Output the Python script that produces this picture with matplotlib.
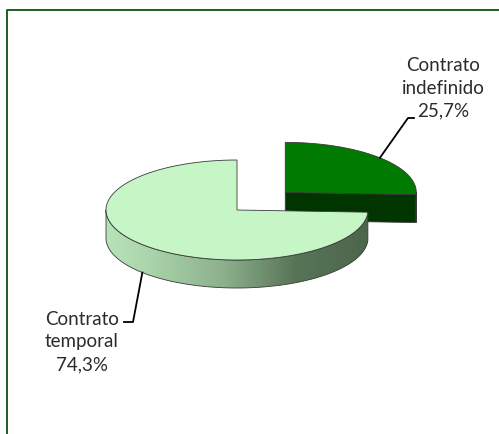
import numpy as np
import matplotlib
matplotlib.use('Agg')
import matplotlib.pyplot as plt
from matplotlib.patches import Polygon
from matplotlib.colors import LinearSegmentedColormap

# dados do grafico
categorias = ['Contrato\nindefinido', 'Contrato\ntemporal']
valores = [25.7, 74.3]
cor_topo = ['#007A00', '#C6F5C6']
cor_lado = ['#003500', None]
explosao = [0.51, 0.0]

# geometria (pixels)
cx, cy = 237, 210
rx, ry = 131, 50
prof = 28

# posicoes dos rotulos
pos_rotulo = [(443, 88), (82, 342)]
cotovelo = [[(408, 118), (414, 118)], [(133, 322), (124, 322)]]

fig = plt.figure(figsize=(4.99, 4.34), dpi=100)
ax = fig.add_axes([0, 0, 1, 1])
ax.set_xlim(0, 499)
ax.set_ylim(434, 0)
ax.axis('off')

# moldura
ax.plot([7.5, 7.5, 499], [434, 9.5, 9.5], color='#1B5E20', lw=1.4, solid_capstyle='butt')


def ponto(c, ang, desce=0):
    a = np.radians(ang)
    return np.array([c[0] + rx * np.cos(a), c[1] - ry * np.sin(a) + desce])


def arco(c, a1, a2, desce=0, n=300):
    angs = np.linspace(a1, a2, n)
    return np.array([ponto(c, a, desce) for a in angs])


# angulos: comeca em 12h, sentido horario
total = sum(valores)
inicio = 90.0
fatias = []
for i, v in enumerate(valores):
    a1 = inicio
    a2 = inicio - v / total * 360
    meio = (a1 + a2) / 2
    m = np.radians(meio)
    c = np.array([cx + explosao[i] * rx * np.cos(m), cy - explosao[i] * ry * np.sin(m)])
    fatias.append((c, a1, a2, meio))
    inicio = a2

edge = dict(edgecolor='#3a3a3a', linewidth=0.6)

# fatia escura (atras) -- desenhada primeiro
c, a1, a2, meio = fatias[0]
pe = ponto(c, a2)
face = np.array([c, pe, pe + [0, prof], c + [0, prof]])
ax.add_patch(Polygon(face, closed=True, facecolor=cor_lado[0], **edge))
lado = np.vstack([arco(c, 0, a2), arco(c, a2, 0, prof)])
ax.add_patch(Polygon(lado, closed=True, facecolor=cor_lado[0], **edge))
topo = np.vstack([[c], arco(c, a1, a2)])
ax.add_patch(Polygon(topo, closed=True, facecolor=cor_topo[0], **edge))

# fatia clara
c, a1, a2, meio = fatias[1]
lado = np.vstack([arco(c, a1, -180), arco(c, -180, a1, prof)])
lado_patch = Polygon(lado, closed=True, facecolor='none', zorder=2, **edge)
ax.add_patch(lado_patch)
cmap = LinearSegmentedColormap.from_list('lado', [(0, '#B8E2B8'), (0.15, '#ACD6AC'),
                                                  (0.45, '#8CB08C'), (0.72, '#587558'),
                                                  (1, '#4C664C')])
grad = np.linspace(0, 1, 256).reshape(1, -1)
x0, x1 = lado[:, 0].min(), lado[:, 0].max()
y0, y1 = lado[:, 1].min(), lado[:, 1].max()
img = ax.imshow(grad, cmap=cmap, extent=[x0, x1, y1, y0], aspect='auto', zorder=1)
img.set_clip_path(lado_patch)
topo = np.vstack([[c], arco(c, a1, a2, n=500)])
ax.add_patch(Polygon(topo, closed=True, facecolor=cor_topo[1], zorder=3, **edge))
ax.set_xlim(0, 499)
ax.set_ylim(434, 0)

# linhas de chamada e rotulos
for i, (c, a1, a2, meio) in enumerate(fatias):
    if i == 0:
        p = ponto(c, meio)
    else:
        p = ponto(c, meio, prof)
    xs = [p[0]] + [q[0] for q in cotovelo[i]]
    ys = [p[1]] + [q[1] for q in cotovelo[i]]
    ax.plot(xs, ys, color='black', lw=1.3, zorder=5)
    pct = f'{valores[i] / total * 100:.1f}%'.replace('.', ',')
    ax.text(pos_rotulo[i][0], pos_rotulo[i][1], categorias[i] + '\n' + pct,
            ha='center', va='center', fontsize=13.5, family='Lato',
            color='#2b2b2b', linespacing=1.42, zorder=6)

fig.savefig('out.png', dpi=100)
